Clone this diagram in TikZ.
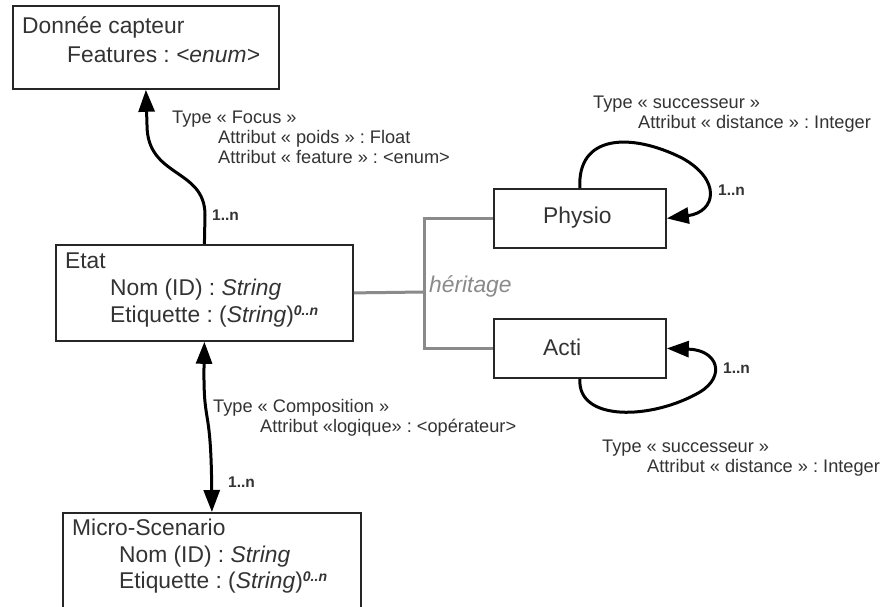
\documentclass[tikz,border=0pt]{standalone}
\usepackage{fontspec}
\setmainfont{Liberation Sans}
\usetikzlibrary{arrows.meta}
\frenchspacing
\definecolor{txt}{HTML}{333333}
\definecolor{inh}{HTML}{8A8A8A}
\definecolor{bord}{HTML}{262626}
\tikzset{
 box/.style={draw=bord, line width=1.8pt, rectangle, anchor=north west, inner sep=0pt},
 boxtxt/.style={anchor=base west, inner sep=0pt, text=txt, font=\fontsize{22.8}{26}\selectfont},
 lbl/.style={anchor=base west, inner sep=0pt, text=txt, font=\fontsize{18.2}{22}\selectfont},
 mult/.style={anchor=base west, inner sep=0pt, text=txt, font=\fontsize{15.5}{18}\selectfont\bfseries},
 reltip/.tip={Triangle[length=22pt,width=16pt]},
 rel/.style={line width=3pt, draw=black},
 inhline/.style={line width=3pt, draw=inh},
}
\newcommand{\supn}{\raisebox{7pt}{\fontsize{14}{14}\selectfont\bfseries\itshape 0..n}}
\begin{document}
\begin{tikzpicture}[x=1pt,y=-1pt]
\clip (0,0) rectangle (884,606);
\fill[white] (0,0) rectangle (884,606);

% boxes
\node[box, minimum width=266pt, minimum height=83pt] (donnee) at (12,5) {};
\node[box, minimum width=297pt, minimum height=96pt] (etat) at (55,244) {};
\node[box, minimum width=172pt, minimum height=59pt] (physio) at (493,188) {};
\node[box, minimum width=172pt, minimum height=59pt] (acti) at (493,318) {};
\node[box, minimum width=298pt, minimum height=140pt] (micro) at (62,512) {};

% box texts
\node[boxtxt] (t1) at (22,33) {Donnée capteur};
\node[boxtxt] (t2) at (67,62) {Features : \textit{<enum>}};
\node[boxtxt] (t3) at (65,268) {Etat};
\node[boxtxt] (t4) at (110,295) {Nom (ID) : \textit{String}};
\node[boxtxt] (t5) at (110,322) {Etiquette : (\textit{String})\supn};
\node[boxtxt] (t6) at (543,223) {Physio};
\node[boxtxt] (t7) at (543,355) {Acti};
\node[boxtxt] (t8) at (72,535) {Micro-Scenario};
\node[boxtxt] (t9) at (119,562) {Nom (ID) : \textit{String}};
\node[boxtxt] (t10) at (119,588) {Etiquette : (\textit{String})\supn};

% inheritance
\coordinate (hj) at (424,292);
\draw[inhline] (etat.east) -- (hj);
\draw[inhline] (physio.west) -| (hj) |- (acti.west);
\node[boxtxt, text=inh, font=\fontsize{22.8}{26}\selectfont\itshape] (her) at (429,292) {héritage};

% Focus relation
\draw[rel, -reltip] (etat.north) -- (205,215) .. controls (205,168) and (147,178) .. (147,125) -- (donnee.south);
\node[lbl] (l1) at (172,123) {Type « Focus »};
\node[lbl] (l2) at (218,143) {Attribut « poids » : Float};
\node[lbl] (l3) at (218,163) {Attribut « feature » : <enum>};
\node[mult] (m1) at (212,220) {1..n};

% Physio loop
\draw[rel, -reltip] (physio.north) .. controls (577,135) and (630,132) .. (682,158) .. controls (722,180) and (716,212) .. (physio.east);
\node[lbl] (l4) at (593,108) {Type « successeur »};
\node[lbl] (l5) at (638,128) {Attribut « distance » : Integer};
\node[mult] (m2) at (718,195) {1..n};

% Acti loop
\draw[rel, -reltip] (acti.south) .. controls (577,422) and (652,420) .. (700,392) .. controls (726,376) and (718,350) .. (acti.east);
\node[lbl] (l6) at (602,452) {Type « successeur »};
\node[lbl] (l7) at (647,472) {Attribut « distance » : Integer};
\node[mult] (m3) at (723,373) {1..n};

% Composition
\draw[rel, reltip-reltip] (etat.south) .. controls (203,430) and (211,400) .. (micro.north);
\node[lbl] (l8) at (213,412) {Type « Composition »};
\node[lbl] (l9) at (260,432) {Attribut «logique» : <opérateur>};
\node[mult] (m4) at (228,487) {1..n};
\end{tikzpicture}
\end{document}
